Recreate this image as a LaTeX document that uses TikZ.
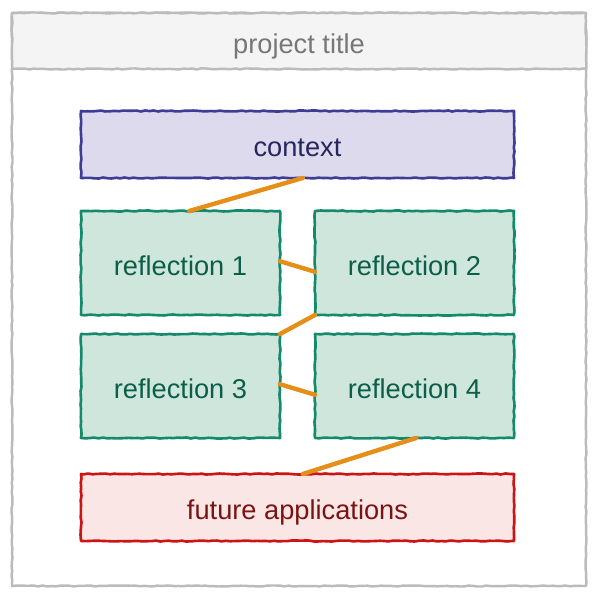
\documentclass[tikz,border=0pt]{standalone}
\usepackage{fontspec}
\setmainfont{Liberation Sans}
\usetikzlibrary{positioning,decorations.pathmorphing}

\definecolor{framegray}{HTML}{BBBBBB}
\definecolor{titlefill}{HTML}{F4F4F4}
\definecolor{titletext}{HTML}{777777}
\definecolor{ctxfill}{HTML}{DEDAEE}
\definecolor{ctxdraw}{HTML}{3F3C96}
\definecolor{ctxtext}{HTML}{26265E}
\definecolor{reffill}{HTML}{CFE6DD}
\definecolor{refdraw}{HTML}{138A6A}
\definecolor{reftext}{HTML}{0D5E48}
\definecolor{futfill}{HTML}{FBE6E6}
\definecolor{futdraw}{HTML}{CC1414}
\definecolor{futtext}{HTML}{7A1414}
\definecolor{linkorange}{HTML}{E58E1A}

\begin{document}
\begin{tikzpicture}[
    font=\fontsize{15.5}{18}\selectfont,
    every node/.style={text height=14pt, text depth=0pt},
    rough/.style={decorate, decoration={random steps, segment length=2.5pt, amplitude=0.3pt}, line join=round},
    wide/.style={rectangle, rough, line width=1.5pt, outer sep=0pt, minimum width=8.66cm, minimum height=1.34cm, inner sep=0pt},
    refl/.style={rectangle, rough, line width=1.5pt, outer sep=0pt, fill=reffill, draw=refdraw, text=reftext, minimum width=3.98cm, minimum height=2.08cm, inner sep=0pt},
    link/.style={line width=2.5pt, draw=linkorange, line cap=round},
]
    \useasboundingbox (0,0) rectangle (12,-11.96);

    % frame and title band
    \draw[rough, line width=1.4pt, draw=framegray, fill=white] (0.24,-0.26) rectangle (11.72,-11.72);
    \draw[rough, line width=1.4pt, draw=framegray, fill=titlefill] (0.24,-0.26) rectangle (11.72,-1.38);
    \node[text=titletext] (title) at (5.98,-0.82) {project title};

    \node[wide, fill=ctxfill, draw=ctxdraw, text=ctxtext] (context) at (5.95,-2.89) {context};

    \node[refl, below=0.66cm of context.south west, anchor=north west] (refl1) {reflection 1};
    \node[refl, right=0.7cm of refl1] (refl2) {reflection 2};
    \node[refl, below=0.38cm of refl1] (refl3) {reflection 3};
    \node[refl, right=0.7cm of refl3] (refl4) {reflection 4};

    \node[wide, fill=futfill, draw=futdraw, text=futtext, below=0.72cm of refl3.south west, anchor=north west] (future) {future applications};

    \draw[link] ([xshift=3pt]context.south) -- ([xshift=5pt]refl1.north);
    \draw[link] ([yshift=1pt]refl1.east) -- ([yshift=-5pt]refl2.west);
    \draw[link] (refl2.south west) -- (refl3.north east);
    \draw[link] ([yshift=1pt]refl3.east) -- ([yshift=-5pt]refl4.west);
    \draw[link] ([xshift=1pt]refl4.south) -- ([xshift=3pt]future.north);

\end{tikzpicture}
\end{document}
